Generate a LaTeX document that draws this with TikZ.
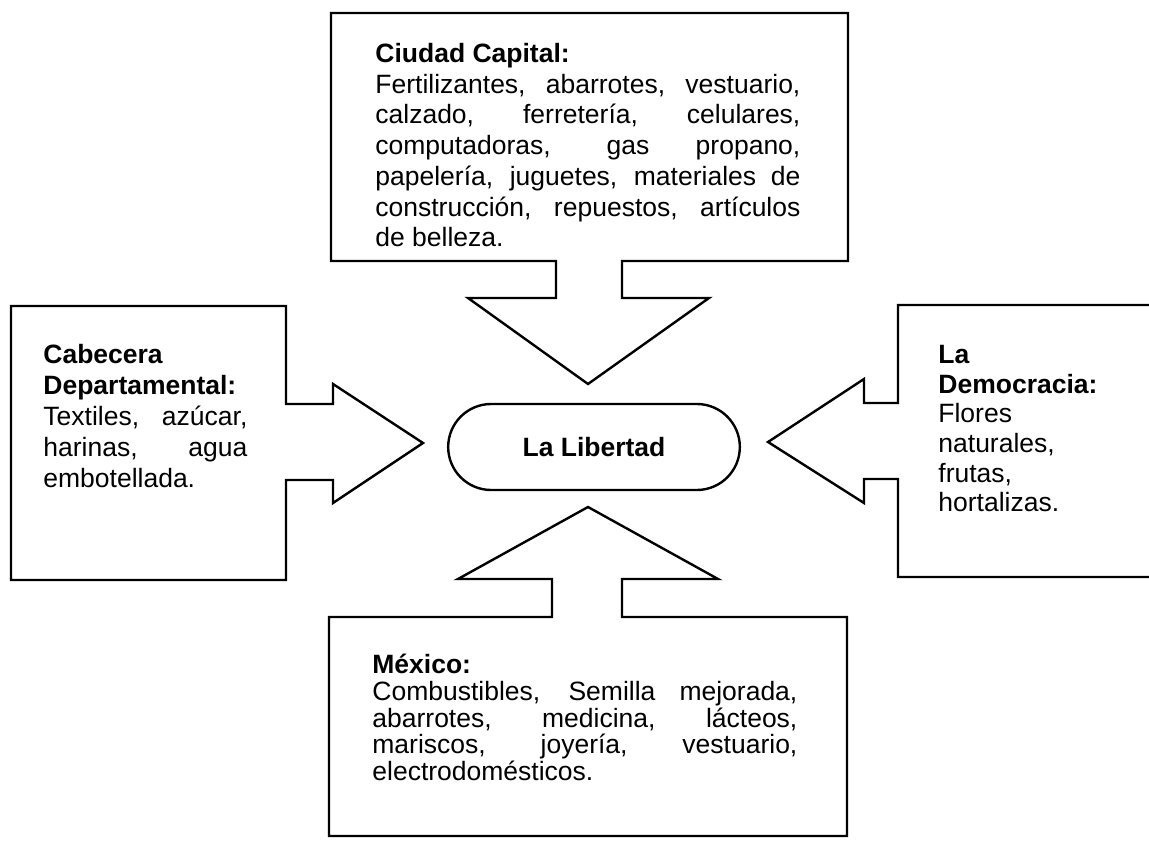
\documentclass[tikz,border=0pt]{standalone}
\usepackage{fontspec}
\setmainfont{Liberation Sans}
\usetikzlibrary{shapes.misc,positioning}

\begin{document}
\begin{tikzpicture}[
    x=0.5pt, y=0.5pt,
    callout/.style={draw=black, line width=1.2pt, line join=miter},
    txt/.style={anchor=north west, inner sep=0pt, align=justify,
                font=\fontsize{13.25}{15.35}\selectfont},
    hub/.style={rounded rectangle, draw=black, line width=1.2pt,
                minimum width=152.5pt, minimum height=43pt,
                font=\fontsize{13.25}{15.35}\selectfont\bfseries}
]
\useasboundingbox (0,0) rectangle (1149,846);

% Centre
\node[hub] (libertad) at (594,399) {La Libertad};

% Callouts
\draw[callout] (331,833) -- (848,833) -- (848,585) -- (622,585) -- (622,548) -- (709,548)
    -- (588,462) -- (468,548) -- (556,548) -- (556,585) -- (331,585) -- cycle;
\draw[callout] (11,540) -- (286,540) -- (286,442) -- (333,442) -- (333,462) -- (423,403)
    -- (333,343) -- (333,366) -- (286,366) -- (286,266) -- (11,266) -- cycle;
\draw[callout] (1149,541) -- (898,541) -- (898,443) -- (864,443) -- (864,467) -- (768,404)
    -- (864,343) -- (864,367) -- (898,367) -- (898,269) -- (1149,269);
\draw[callout] (329,10) -- (847,10) -- (847,229) -- (622,229) -- (622,267) -- (718,267)
    -- (588,339) -- (458,267) -- (552,267) -- (552,229) -- (329,229) -- cycle;

% Texts
\node[txt, text width=212.5pt] (capital) at (375,803)
    {\textbf{Ciudad Capital:}\\ Fertilizantes, abarrotes, vestuario,\linebreak
     calzado, ferretería, celulares,\linebreak computadoras, gas propano,\linebreak
     papelería, juguetes, materiales de\linebreak construcción, repuestos, artículos\linebreak
     de belleza.};
\node[txt, text width=102pt, font=\fontsize{13.25}{15.5}\selectfont] (cabecera) at (43,502)
    {\textbf{Cabecera}\\ \textbf{Departamental:}\\ Textiles, azúcar,\linebreak
     harinas, agua\linebreak embotellada.};
\node[txt, align=left, font=\fontsize{13.25}{14.8}\selectfont] (democracia) at (938,501)
    {\textbf{La}\\ \textbf{Democracia:}\\ Flores\\ naturales,\\ frutas,\\ hortalizas.};
\node[txt, text width=212.5pt, font=\fontsize{13.25}{13.35}\selectfont] (mexico) at (372,192)
    {\textbf{México:}\\ Combustibles, Semilla mejorada,\linebreak
     abarrotes, medicina, lácteos,\linebreak mariscos, joyería, vestuario,\linebreak
     electrodomésticos.};

\end{tikzpicture}
\end{document}
